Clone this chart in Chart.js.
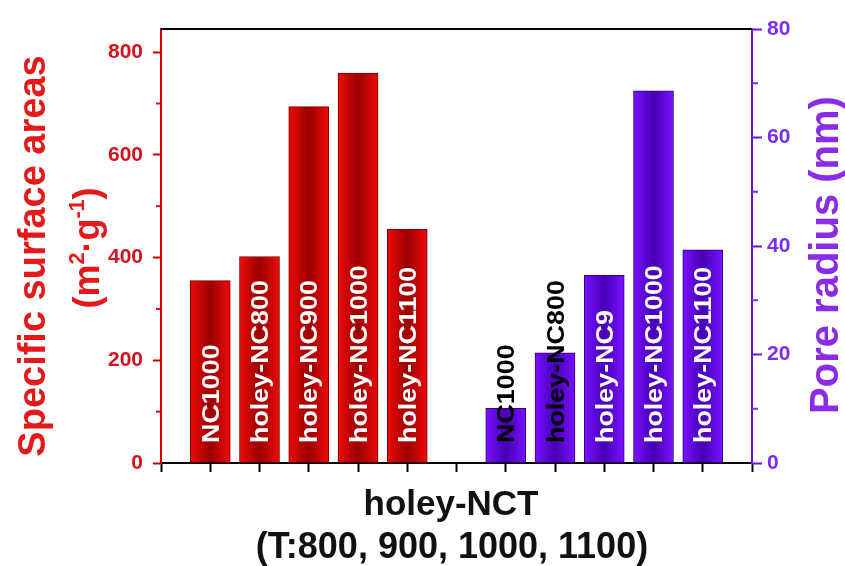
<!DOCTYPE html>
<html>
<head>
<meta charset="utf-8">
<script src="https://cdn.jsdelivr.net/npm/chart.js@4.4.1/dist/chart.umd.min.js"></script>
<style>
  html, body { margin: 0; padding: 0; background: #ffffff; }
  #wrap { width: 845px; height: 566px; position: relative; }
</style>
</head>
<body>
<div id="wrap"><canvas id="c" width="845" height="566"></canvas></div>
<script>
// Specific surface area (left axis) per sample
const areaSlots = [1, 2, 3, 4, 5];
const areaNames = ['NC1000', 'holey-NC800', 'holey-NC900', 'holey-NC1000', 'holey-NC1100'];
const surfaceArea = [355, 402, 694, 759, 455];

// Pore radius (right axis) per sample
const radiusSlots = [7, 8, 9, 10, 11];
const radiusNames = ['NC1000', 'holey-NC800', 'holey-NC9', 'holey-NC1000', 'holey-NC1100'];
const poreRadius = [10.1, 20.3, 34.6, 68.6, 39.3];

// Axis ticks
const areaTicks = [0, 200, 400, 600, 800];
const areaMinor = [100, 300, 500, 700];
const radiusTicks = [0, 20, 40, 60, 80];
const radiusMinor = [10, 30, 50, 70];
const slotTicks = [0, 1, 2, 3, 4, 5, 6, 7, 8, 9, 10, 11, 12];

const FONT = "'Liberation Sans', Arial, sans-serif";
const RED = '#d2121c';
const PURPLE = '#7a2ff0';

function barFill(edge, mid, slots) {
  return (ctx) => {
    const xs = ctx.chart.scales && ctx.chart.scales.x;
    if (ctx.type !== 'data' || !xs) return edge;
    const cx = xs.getPixelForValue(slots[ctx.dataIndex]);
    if (!isFinite(cx)) return edge;
    const g = ctx.chart.ctx.createLinearGradient(cx - 20, 0, cx + 20, 0);
    g.addColorStop(0, edge);
    g.addColorStop(0.5, mid);
    g.addColorStop(1, edge);
    return g;
  };
}

function rotatedText(ctx, text, x, y, font, color, align, stretch) {
  ctx.save();
  ctx.translate(x, y);
  ctx.rotate(-Math.PI / 2);
  ctx.scale(stretch || 1, 1);
  ctx.font = font;
  ctx.fillStyle = color;
  ctx.textAlign = align;
  ctx.textBaseline = 'alphabetic';
  ctx.fillText(text, 0, 0);
  ctx.restore();
}

// Draws text pieces (with superscripts) rotated, centred on y
function rotatedRich(ctx, parts, x, y, size, color) {
  ctx.save();
  ctx.translate(x, y);
  ctx.rotate(-Math.PI / 2);
  ctx.fillStyle = color;
  ctx.textBaseline = 'alphabetic';
  ctx.textAlign = 'left';
  let total = 0;
  const widths = parts.map(p => {
    ctx.font = 'bold ' + (p.sup ? size * 0.6 : size) + 'px ' + FONT;
    const w = ctx.measureText(p.t).width;
    total += w;
    return w;
  });
  let pos = -total / 2;
  parts.forEach((p, i) => {
    ctx.font = 'bold ' + (p.sup ? size * 0.6 : size) + 'px ' + FONT;
    ctx.fillText(p.t, pos, p.sup ? -size * 0.42 : 0);
    pos += widths[i];
  });
  ctx.restore();
}

const decorations = {
  id: 'decorations',
  afterDraw(chart) {
    const ctx = chart.ctx;
    const a = chart.chartArea;
    const yL = chart.scales.yL, yR = chart.scales.yR;

    // top frame line
    ctx.save();
    ctx.strokeStyle = '#000';
    ctx.lineWidth = 2;
    ctx.beginPath();
    ctx.moveTo(a.left, a.top);
    ctx.lineTo(a.right, a.top);
    ctx.stroke();

    // minor ticks
    ctx.strokeStyle = RED;
    areaMinor.forEach(v => {
      const py = yL.getPixelForValue(v);
      ctx.beginPath(); ctx.moveTo(a.left - 5, py); ctx.lineTo(a.left, py); ctx.stroke();
    });
    ctx.strokeStyle = PURPLE;
    radiusMinor.forEach(v => {
      const py = yR.getPixelForValue(v);
      ctx.beginPath(); ctx.moveTo(a.right, py); ctx.lineTo(a.right + 6, py); ctx.stroke();
    });
    ctx.restore();

    // labels inside the bars
    const labelFont = 'bold 24px ' + FONT;
    const stretch = 1.12;
    [[0, areaNames], [1, radiusNames]].forEach(([di, names]) => {
      const meta = chart.getDatasetMeta(di);
      meta.data.forEach((bar, i) => {
        ctx.save();
        ctx.font = labelFont;
        const len = ctx.measureText(names[i]).width * stretch;
        ctx.restore();
        const barH = bar.base - bar.y;
        const color = (len + 20 > barH) ? '#000000' : '#ffffff';
        rotatedText(ctx, names[i], bar.x + 8.5, a.bottom - 20, labelFont, color, 'left', stretch);
      });
    });

    // axis titles
    rotatedText(ctx, 'Specific surface areas', 45, 256, 'bold 38px ' + FONT, '#e41a1a', 'center');
    rotatedRich(ctx, [
      { t: '(m' }, { t: '2', sup: true }, { t: '\u00B7g' }, { t: '-1', sup: true }, { t: ')' }
    ], 99, 248, 36, '#e41a1a');
    rotatedText(ctx, 'Pore radius (nm)', 838, 255, 'bold 40px ' + FONT, '#8a2be8', 'center');

    ctx.save();
    ctx.fillStyle = '#111';
    ctx.textAlign = 'center';
    ctx.textBaseline = 'alphabetic';
    ctx.font = 'bold 35px ' + FONT;
    ctx.fillText('holey-NCT', 451, 515);
    ctx.font = 'bold 36px ' + FONT;
    ctx.fillText('(T:800, 900, 1000, 1100)', 452, 558);
    ctx.restore();
  }
};

new Chart(document.getElementById('c'), {
  type: 'bar',
  data: {
    datasets: [
      {
        label: 'Specific surface areas',
        data: areaSlots.map((x, i) => ({ x, y: surfaceArea[i] })),
        yAxisID: 'yL',
        grouped: false,
        barThickness: 40,
        backgroundColor: barFill('#ee0a0a', '#9a0000', areaSlots),
        borderColor: '#7a0000',
        borderWidth: 1,
        borderSkipped: 'bottom'
      },
      {
        label: 'Pore radius',
        data: radiusSlots.map((x, i) => ({ x, y: poreRadius[i] })),
        yAxisID: 'yR',
        grouped: false,
        barThickness: 40,
        backgroundColor: barFill('#7812ff', '#4600b4', radiusSlots),
        borderColor: '#30007a',
        borderWidth: 1,
        borderSkipped: 'bottom'
      }
    ]
  },
  options: {
    responsive: false,
    devicePixelRatio: 1,
    animation: false,
    layout: { padding: { top: 29, left: 0, right: 0, bottom: 0 } },
    plugins: { legend: { display: false }, tooltip: { enabled: false } },
    scales: {
      x: {
        type: 'linear',
        position: 'bottom',
        offset: false,
        min: 0,
        max: 12,
        afterBuildTicks: s => { s.ticks = slotTicks.map(v => ({ value: v })); },
        afterFit: s => { s.height = 103; },
        border: { display: true, color: '#000', width: 2 },
        grid: { display: true, offset: false, drawOnChartArea: false, drawTicks: true, tickLength: 9, tickColor: '#000', tickWidth: 2, color: '#000' },
        ticks: { callback: () => '' }
      },
      yL: {
        type: 'linear',
        position: 'left',
        min: 0,
        max: 845,
        afterBuildTicks: s => { s.ticks = areaTicks.map(v => ({ value: v })); },
        afterFit: s => { s.width = 161; },
        border: { display: true, color: '#cc0000', width: 2 },
        grid: { display: true, drawOnChartArea: false, drawTicks: true, tickLength: 8, tickColor: '#cc0000', tickWidth: 2 },
        ticks: { color: RED, padding: 10, font: { family: FONT, size: 21, weight: 'bold' } }
      },
      yR: {
        type: 'linear',
        position: 'right',
        min: 0,
        max: 80,
        afterBuildTicks: s => { s.ticks = radiusTicks.map(v => ({ value: v })); },
        afterFit: s => { s.width = 93; },
        border: { display: true, color: '#6a10f0', width: 2 },
        grid: { display: true, drawOnChartArea: false, drawTicks: true, tickLength: 10, tickColor: '#6a10f0', tickWidth: 2 },
        ticks: { color: PURPLE, padding: 5, font: { family: FONT, size: 21, weight: 'bold' } }
      }
    }
  },
  plugins: [decorations]
});
</script>
</body>
</html>
